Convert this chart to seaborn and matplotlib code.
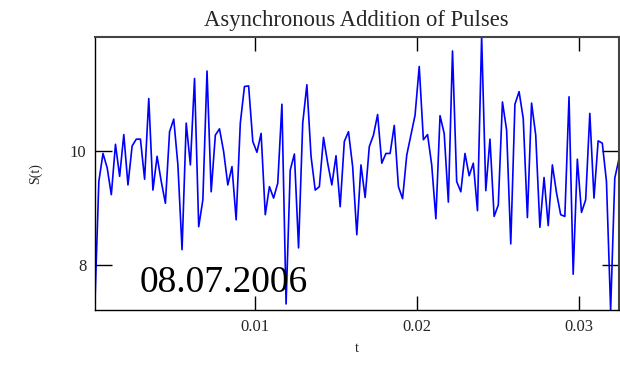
import numpy as np
import matplotlib
matplotlib.use("Agg")
import matplotlib.pyplot as plt
import seaborn as sns

# sampling grid of the summed pulse train
t0 = 0.0001
dt = 0.000257

# S(t) samples
signal = [
    7.21, 9.46, 9.95, 9.70, 9.23, 10.11, 9.55, 10.28, 9.40, 10.08,
    10.20, 10.20, 9.50, 10.91, 9.31, 9.90, 9.46, 9.08, 10.33, 10.55,
    9.75, 8.27, 10.48, 9.75, 11.26, 8.67, 9.14, 11.39, 9.28, 10.27,
    10.38, 9.98, 9.40, 9.72, 8.79, 10.48, 11.12, 11.13, 10.16, 9.97,
    10.30, 8.88, 9.37, 9.17, 9.43, 10.81, 7.32, 9.66, 9.94, 8.30,
    10.48, 11.15, 9.90, 9.31, 9.37, 10.23, 9.78, 9.40, 9.91, 9.02,
    10.16, 10.33, 9.72, 8.53, 9.75, 9.18, 10.07, 10.27, 10.63, 9.78,
    9.95, 9.95, 10.44, 9.37, 9.16, 9.92, 10.27, 10.62, 11.47, 10.19,
    10.28, 9.75, 8.81, 10.61, 10.30, 9.10, 11.74, 9.46, 9.28, 9.95,
    9.56, 9.78, 8.95, 11.99, 9.30, 10.20, 8.85, 9.05, 10.85, 10.36,
    8.37, 10.81, 11.03, 10.56, 8.83, 10.83, 10.27, 8.66, 9.53, 8.69,
    9.75, 9.26, 8.88, 8.85, 10.94, 7.84, 9.85, 8.92, 9.14, 10.65,
    9.17, 10.17, 10.13, 9.46, 7.21, 9.52, 9.85,
]
t = [t0 + i * dt for i in range(len(signal))]

x_ticks = [0.01, 0.02, 0.03]
x_tick_labels = ["0.01", "0.02", "0.03"]
y_ticks = [8, 10]
y_tick_labels = ["8", "10"]

title = "Asynchronous Addition of Pulses"
x_label = "t"
y_label = "S(t)"
stamp = "08.07.2006"

sns.set_theme(style="white")
plt.rcParams["font.family"] = ["Liberation Serif", "DejaVu Serif"]

fig = plt.figure(figsize=(6.2, 3.65), dpi=100)
ax = fig.add_axes([0.1527, 0.1499, 0.8456, 0.7496])

sns.lineplot(x=t, y=signal, ax=ax, color="#0000ff", linewidth=1.2,
             estimator=None, sort=False)

ax.set_xlim(min(t), max(t))
ax.set_ylim(min(signal), max(signal))

ax.set_xticks(x_ticks)
ax.set_xticklabels(x_tick_labels)
ax.set_yticks(y_ticks)
ax.set_yticklabels(y_tick_labels)

ax.tick_params(axis="both", which="major", direction="in",
               left=True, bottom=True, top=True, right=True,
               labelsize=12, color="black", width=1.0)
ax.tick_params(axis="x", length=10, pad=6)
ax.tick_params(axis="y", length=12, pad=6)

for side in ["left", "bottom"]:
    ax.spines[side].set_color("black")
    ax.spines[side].set_linewidth(1.0)
for side in ["top", "right"]:
    ax.spines[side].set_color("#444444")
    ax.spines[side].set_linewidth(1.5)

ax.set_title(title, fontsize=16.3, pad=8)
ax.set_xlabel(x_label, fontsize=10, labelpad=5)
ax.set_ylabel(y_label, fontsize=10, labelpad=20)

ax.text(0.086, 0.067, stamp, transform=ax.transAxes, fontsize=27,
        ha="left", va="baseline", color="black")

fig.savefig("out.png", dpi=100)
